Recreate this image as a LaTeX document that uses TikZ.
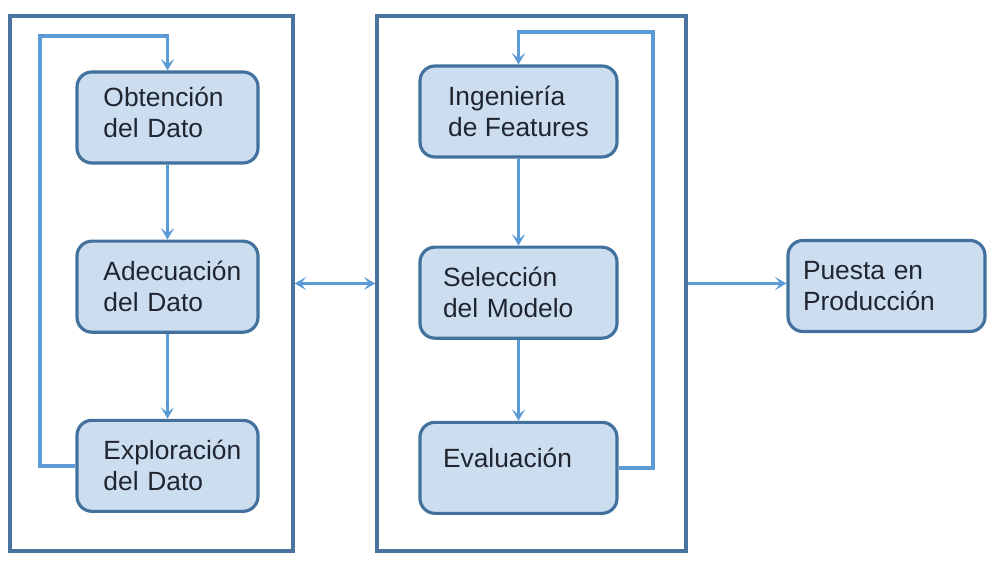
\documentclass[tikz,border=0pt]{standalone}
\usepackage{fontspec}
\setmainfont{Liberation Sans}
\usepackage{xcolor}
\usetikzlibrary{arrows.meta,positioning,calc}
\definecolor{framec}{HTML}{4A74A0}
\definecolor{boxline}{HTML}{41719C}
\definecolor{boxfill}{HTML}{CCDDF0}
\definecolor{linkc}{HTML}{5B9BD5}
\definecolor{inkc}{HTML}{1E2530}
\tikzset{
  stage/.style={
    draw=boxline, line width=1.8pt, rounded corners=8.5pt, fill=boxfill,
    minimum width=3.62cm, minimum height=1.82cm, align=left,
    text=inkc, font=\fontsize{15}{17.6}\selectfont
  },
  frame/.style={draw=framec, line width=2pt, minimum width=5.66cm},
  link/.style={draw=linkc, line width=2.2pt,
    -{Stealth[length=6.5pt, width=7.5pt, inset=3pt]}},
}
\begin{document}
\begin{tikzpicture}[x=0.2mm, y=-0.2mm]
  \useasboundingbox (0,0) rectangle (995,565);

  % frames
  \node[frame, minimum height=10.7cm] (fl) at (151.5,283.5) {};
  \node[frame, minimum width=6.18cm, minimum height=10.7cm] (fm) at (531.5,283.5) {};

  % left column
  \node[stage, text width=2.56cm, text depth=0.82cm] (obt) at (167.5,117.5) {Obtención\\del Dato};
  \node[stage, text width=2.56cm, below=1.50cm of obt] (ade) {Adecuación\\del Dato};
  \node[stage, text width=2.56cm, below=1.70cm of ade] (exp) {Exploración\\del Dato};

  % middle column
  \node[stage, minimum width=3.94cm] (ing) at (518.5,111.5) {Ingeniería\\de Features};
  \node[stage, minimum width=3.94cm, text width=3.02cm, below=1.74cm of ing] (sel) {Selección\\del Modelo};
  \node[stage, minimum width=3.94cm, text width=3.02cm, text depth=0.40cm, below=1.62cm of sel] (eva) {Evaluación};

  \node[stage, text width=3.34cm, inner xsep=0.3cm] (pue) at (886.5,286) {Puesta en\\Producción};

  \draw[link] (obt) -- (ade);
  \draw[link] (ade) -- (exp);
  \draw[link] (exp.west) -- ++(-35,0) |- ([yshift=6.8mm]obt.north) -- (obt.north);

  \draw[link] (ing) -- (sel);
  \draw[link] (sel) -- (eva);
  \draw[link] (eva.east) -- ++(34,0) |- ([yshift=6.4mm]ing.north) -- (ing.north);

  \draw[link, {Stealth[length=6.5pt, width=7.5pt, inset=3pt]}-{Stealth[length=6.5pt, width=7.5pt, inset=3pt]}] (fl.east) -- (fm.west);
  \draw[link] (fm.east) -- (fm.east -| pue.west);
\end{tikzpicture}
\end{document}
